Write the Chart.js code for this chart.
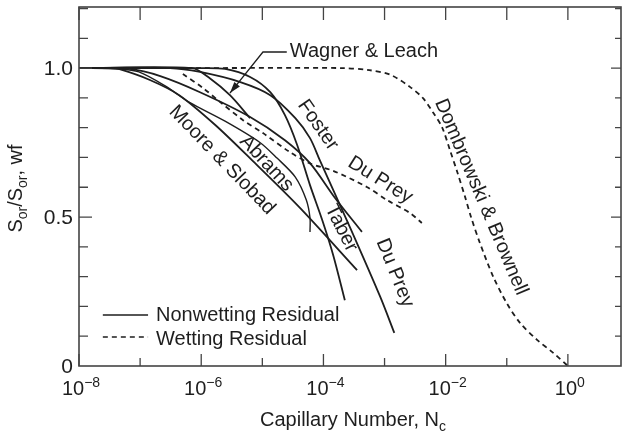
<!DOCTYPE html>
<html>
<head>
<meta charset="utf-8">
<script src="https://cdn.jsdelivr.net/npm/chart.js@4.4.1/dist/chart.umd.min.js"></script>
<style>
  html, body { margin: 0; padding: 0; background: #fff; }
</style>
</head>
<body>
<canvas id="chart" width="622" height="432"></canvas>
<script>
// x values are log10(Nc), y values are Sor / Sor,wf

// nonwetting residual (solid)
const mooreLogNc = [-8, -7.49, -7.35, -6.84, -6.36, -5.77, -5.17, -4.38, -3.45];
const mooreSor   = [1.0, 1.0, 0.997, 0.96, 0.909, 0.809, 0.691, 0.53, 0.322];

const taberLogNc = [-8, -7.17, -6.67, -6.02, -5.2, -4.63, -4.22, -3.81, -3.37];
const taberSor   = [1.0, 0.997, 0.973, 0.919, 0.836, 0.758, 0.681, 0.564, 0.45];

const abramsLogNc = [-8, -7.33, -7.02, -6.59, -6.2, -5.61, -5.05, -4.76, -4.46, -4.28, -4.22, -4.22];
const abramsSor   = [1.0, 0.997, 0.987, 0.94, 0.886, 0.822, 0.752, 0.698, 0.634, 0.557, 0.497, 0.45];

const wagnerLogNc = [-8, -6.15, -5.86, -5.53, -5.2];
const wagnerSor   = [1.0, 1.0, 0.966, 0.909, 0.832];

const fosterLogNc = [-8, -6.02, -5.61, -5.2, -4.87, -4.63, -4.43, -4.22, -4.02, -3.84, -3.65];
const fosterSor   = [1.0, 1.0, 0.997, 0.97, 0.919, 0.842, 0.742, 0.607, 0.49, 0.372, 0.221];

const duPreyLogNc = [-8, -6.51, -6.02, -5.36, -4.87, -4.46, -4.22, -4.06, -3.56, -3.07, -2.84];
const duPreySor   = [1.0, 1.0, 0.987, 0.953, 0.909, 0.832, 0.765, 0.691, 0.463, 0.232, 0.111];

// wetting residual (dashed)
const duPreyWetLogNc = [-6.3, -5.97, -5.69, -5.32, -4.99, -4.55, -4.22, -3.84, -3.29, -2.96, -2.58, -2.39];
const duPreyWetSor   = [0.98, 0.933, 0.886, 0.826, 0.782, 0.718, 0.68, 0.655, 0.601, 0.557, 0.513, 0.48];

const dombLogNc = [-8, -6, -3.7, -3.25, -2.9, -2.58, -2.37, -2.2, -2.06, -1.93, -1.81, -1.68, -1.58, -1.44, -1.22, -1.0, -0.78, -0.5, -0.24, 0];
const dombSor   = [1.0, 1.0, 1.0, 0.993, 0.977, 0.936, 0.899, 0.849, 0.802, 0.725, 0.651, 0.566, 0.497, 0.413, 0.299, 0.211, 0.144, 0.087, 0.044, 0];

// axis ticks
const decades = [-8, -7, -6, -5, -4, -3, -2, -1, 0];
const labelledDecades = [-8, -6, -4, -2, 0];
const yTickValues = [0.1, 0.2, 0.3, 0.4, 0.5, 0.6, 0.7, 0.8, 0.9, 1.0, 1.1, 1.2];
const yLabelValues = [0, 0.5, 1.0];
const yLabelText = ['0', '0.5', '1.0'];

// curve names: [text, log10 Nc, Sor, rotation deg]
const curveLabels = [
  ['Moore & Slobad', -5.66, 0.691, 46],
  ['Abrams', -4.93, 0.68, 47],
  ['Foster', -4.09, 0.809, 55],
  ['Du Prey', -3.07, 0.624, 32],
  ['Taber', -3.71, 0.463, 63],
  ['Du Prey', -2.83, 0.312, 68],
  ['Dombrowski & Brownell', -1.42, 0.567, 67]
];

const FONT = '"Liberation Sans", Arial, Helvetica, sans-serif';
const INK = '#1e1e1e';

function pts(logs, vals) {
  return logs.map((e, i) => ({ x: Math.pow(10, e), y: vals[i] }));
}

function curve(logs, vals, dashed, width) {
  return {
    data: pts(logs, vals),
    showLine: true,
    borderColor: INK,
    borderWidth: width || 1.8,
    borderDash: dashed ? [5, 4] : [],
    pointRadius: 0,
    tension: 0.3,
    fill: false
  };
}

function drawRich(ctx, parts, x, y, align) {
  let w = 0;
  parts.forEach(p => {
    ctx.font = p.size + 'px ' + FONT;
    p.w = ctx.measureText(p.t).width;
    w += p.w;
  });
  let cx = align === 'center' ? x - w / 2 : x;
  ctx.textAlign = 'left';
  parts.forEach(p => {
    ctx.font = p.size + 'px ' + FONT;
    ctx.fillText(p.t, cx, y + (p.dy || 0));
    cx += p.w;
  });
}

const frame = {
  id: 'frame',
  afterDatasetsDraw(chart) {
    const { ctx, chartArea: a, scales: { x, y } } = chart;
    const px = v => x.getPixelForValue(Math.pow(10, v));
    ctx.save();

    // box
    ctx.strokeStyle = '#444';
    ctx.lineWidth = 1.6;
    ctx.strokeRect(a.left, a.top, a.right - a.left, a.bottom - a.top);

    // inward ticks
    ctx.lineWidth = 1.3;
    ctx.beginPath();
    decades.forEach(d => {
      const xx = px(d);
      ctx.moveTo(xx, a.bottom);
      ctx.lineTo(xx, a.bottom - (d % 2 === 0 ? 12 : 8));
      ctx.moveTo(xx, a.top);
      ctx.lineTo(xx, a.top + 13);
    });
    yTickValues.forEach(v => {
      const yy = y.getPixelForValue(v);
      const major = Math.abs(v - 0.5) < 1e-6 || Math.abs(v - 1.0) < 1e-6;
      ctx.moveTo(a.left, yy);
      ctx.lineTo(a.left + (major ? 13 : 9), yy);
      ctx.moveTo(a.right, yy);
      ctx.lineTo(a.right - (major ? 10 : 6), yy);
    });
    ctx.stroke();

    ctx.fillStyle = INK;
    ctx.textBaseline = 'alphabetic';

    // x tick labels
    labelledDecades.forEach(d => {
      const parts = [{ t: '10', size: 20 }];
      parts.push({ t: d === 0 ? '0' : '\u2212' + (-d), size: 14, dy: -8 });
      drawRich(ctx, parts, px(d) + 2, 395, 'center');
    });

    // y tick labels
    ctx.font = '21px ' + FONT;
    ctx.textAlign = 'right';
    yLabelValues.forEach((v, i) => {
      ctx.fillText(yLabelText[i], 73, y.getPixelForValue(v) + 7);
    });

    // axis titles
    drawRich(ctx, [
      { t: 'Capillary Number, N', size: 20 },
      { t: 'c', size: 14, dy: 5 }
    ], (a.left + a.right) / 2 + 3, 426, 'center');

    ctx.save();
    ctx.translate(22, (a.top + a.bottom) / 2 + 2);
    ctx.rotate(-Math.PI / 2);
    drawRich(ctx, [
      { t: 'S', size: 20 },
      { t: 'or', size: 14, dy: 5 },
      { t: '/S', size: 20 },
      { t: 'or', size: 14, dy: 5 },
      { t: ', wf', size: 20 }
    ], 0, 0, 'center');
    ctx.restore();

    // curve names
    ctx.font = '20px ' + FONT;
    curveLabels.forEach(([t, lx, ly, deg]) => {
      ctx.save();
      ctx.translate(px(lx), y.getPixelForValue(ly));
      ctx.rotate(deg * Math.PI / 180);
      ctx.textAlign = 'center';
      ctx.textBaseline = 'middle';
      ctx.fillText(t, 0, 0);
      ctx.restore();
    });

    // Wagner & Leach with pointer
    ctx.textAlign = 'left';
    ctx.textBaseline = 'alphabetic';
    ctx.fillText('Wagner & Leach', px(-4.55), y.getPixelForValue(1.037));
    const p0 = [px(-4.6), y.getPixelForValue(1.054)];
    const p1 = [px(-4.99), y.getPixelForValue(1.054)];
    const p2 = [px(-5.53), y.getPixelForValue(0.916)];
    ctx.strokeStyle = INK;
    ctx.lineWidth = 1.3;
    ctx.beginPath();
    ctx.moveTo(p0[0], p0[1]);
    ctx.lineTo(p1[0], p1[1]);
    ctx.lineTo(p2[0], p2[1]);
    ctx.stroke();
    const ang = Math.atan2(p2[1] - p1[1], p2[0] - p1[0]);
    ctx.beginPath();
    ctx.moveTo(p2[0], p2[1]);
    ctx.lineTo(p2[0] - 12 * Math.cos(ang - 0.3), p2[1] - 12 * Math.sin(ang - 0.3));
    ctx.lineTo(p2[0] - 12 * Math.cos(ang + 0.3), p2[1] - 12 * Math.sin(ang + 0.3));
    ctx.closePath();
    ctx.fill();

    // legend
    const lx0 = px(-7.61), lx1 = px(-6.87), tx = px(-6.74);
    ctx.lineWidth = 1.5;
    ctx.beginPath();
    ctx.moveTo(lx0, y.getPixelForValue(0.171));
    ctx.lineTo(lx1, y.getPixelForValue(0.171));
    ctx.stroke();
    ctx.setLineDash([5, 4]);
    ctx.beginPath();
    ctx.moveTo(lx0, y.getPixelForValue(0.097));
    ctx.lineTo(lx1, y.getPixelForValue(0.097));
    ctx.stroke();
    ctx.setLineDash([]);
    ctx.font = '20px ' + FONT;
    ctx.fillText('Nonwetting Residual', tx, y.getPixelForValue(0.151));
    ctx.fillText('Wetting Residual', tx, y.getPixelForValue(0.070));

    ctx.restore();
  }
};

new Chart(document.getElementById('chart'), {
  type: 'scatter',
  data: {
    datasets: [
      curve(dombLogNc, dombSor, true),
      curve(duPreyWetLogNc, duPreyWetSor, true),
      curve(mooreLogNc, mooreSor),
      curve(taberLogNc, taberSor),
      curve(abramsLogNc, abramsSor, false, 1.4),
      curve(wagnerLogNc, wagnerSor),
      curve(fosterLogNc, fosterSor),
      curve(duPreyLogNc, duPreySor)
    ]
  },
  options: {
    responsive: false,
    animation: false,
    devicePixelRatio: 1,
    layout: { padding: { top: 7, right: 1, left: 0, bottom: 0 } },
    plugins: { legend: { display: false }, tooltip: { enabled: false } },
    scales: {
      x: {
        type: 'logarithmic',
        min: 1e-8,
        max: 7.4,
        grid: { display: false },
        border: { display: false },
        ticks: { display: false },
        afterFit(s) { s.height = 66; }
      },
      y: {
        min: 0,
        max: 1.205,
        grid: { display: false },
        border: { display: false },
        ticks: { display: false },
        afterFit(s) { s.width = 79; }
      }
    }
  },
  plugins: [frame]
});
</script>
</body>
</html>
